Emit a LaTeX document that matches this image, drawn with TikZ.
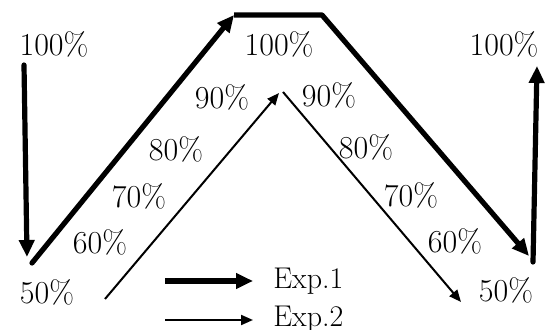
\documentclass[tikz,border=0pt]{standalone}
\usepackage{fontspec}
\usetikzlibrary{arrows.meta}
\begin{document}
\begin{tikzpicture}[x=0.5pt,y=0.5pt,
    exp1/.style={line width=2.6pt,-{Triangle[length=8.5pt,width=7.5pt]}},
    exp2/.style={line width=1pt,-{Triangle[length=6pt,width=5pt]}},
    pct/.style={font=\fontsize{16}{19}\selectfont,inner sep=0pt},
    leg/.style={font=\fontsize{15}{18}\selectfont,inner sep=0pt,anchor=west}]
  \useasboundingbox (0,0) rectangle (549,330);

  % percentage labels
  \node[pct] (ltop)  at (54,286)  {100\%};
  \node[pct] (mtop)  at (279,286) {100\%};
  \node[pct] (rtop)  at (504,286) {100\%};
  \node[pct] (l90)   at (222,233) {90\%};
  \node[pct] (l80)   at (176,181) {80\%};
  \node[pct] (l70)   at (139,134) {70\%};
  \node[pct] (l60)   at (100,88)  {60\%};
  \node[pct] (lbot)  at (47,38)   {50\%};
  \node[pct] (r90)   at (329,235) {90\%};
  \node[pct] (r80)   at (366,183) {80\%};
  \node[pct] (r70)   at (411,135) {70\%};
  \node[pct] (r60)   at (455,89)  {60\%};
  \node[pct] (rbot)  at (506,40)  {50\%};

  % thick path (Exp.1)
  \coordinate (a1) at (24,265);
  \coordinate (a2) at (27,73);
  \coordinate (b1) at (32,67);
  \coordinate (b2) at (234,315);
  \coordinate (c1) at (322,315);
  \coordinate (c2) at (529,74);
  \coordinate (d1) at (533,68);
  \coordinate (d2) at (537,264);
  \draw[exp1,line cap=round] (a1) -- (a2);
  \draw[exp1,line cap=round] (b1) -- (b2);
  \draw[exp1,line join=round] (b2) -- (c1) -- (c2);
  \draw[exp1,line cap=round] (d1) -- (d2);

  % thin path (Exp.2)
  \coordinate (e1) at (105,31);
  \coordinate (e2) at (279,237);
  \coordinate (f1) at (283,238);
  \coordinate (f2) at (461,28);
  \draw[exp2] (e1) -- (e2);
  \draw[exp2] (f1) -- (f2);

  % legend
  \coordinate (g1) at (165,49);
  \coordinate (g2) at (253,49);
  \coordinate (h1) at (165,10);
  \coordinate (h2) at (253,10);
  \draw[exp1] (g1) -- (g2);
  \draw[exp2] (h1) -- (h2);
  \node[leg] (k1) at (273,49) {Exp.1};
  \node[leg] (k2) at (273,11) {Exp.2};
\end{tikzpicture}
\end{document}
